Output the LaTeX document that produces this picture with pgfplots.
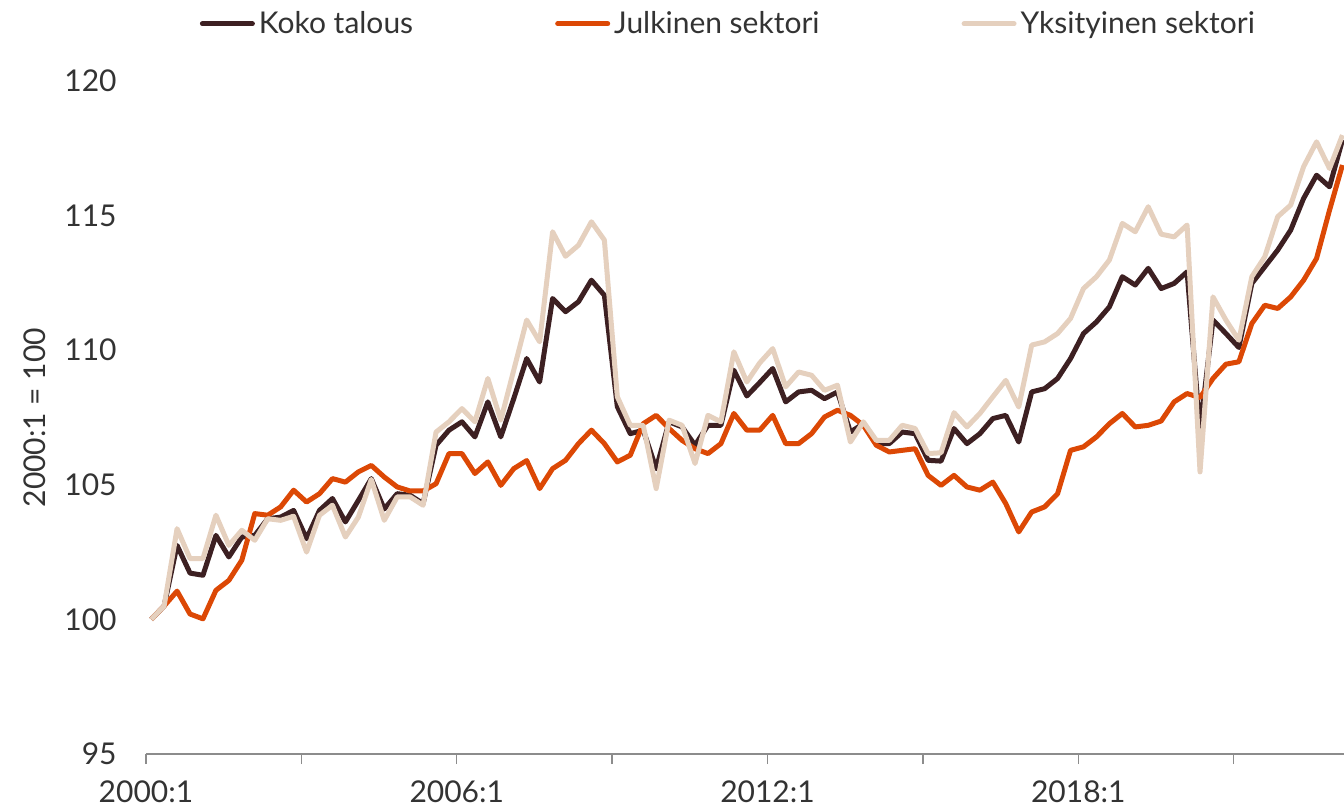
\documentclass[border=0pt]{standalone}
\usepackage{fontspec}
\setmainfont{Lato}
\usepackage{pgfplots}
\usepackage{pgfplotstable}
\pgfplotsset{compat=1.18}
\definecolor{koko}{RGB}{61,32,34}
\definecolor{julk}{RGB}{220,72,5}
\definecolor{yks}{RGB}{229,208,190}
\definecolor{txt}{RGB}{51,51,51}
\pgfplotstableread{
i k j y
0 100.00 100.00 100.00
1 100.50 100.50 100.50
2 102.75 101.05 103.37
3 101.72 100.20 102.26
4 101.64 100.02 102.26
5 103.12 101.08 103.87
6 102.32 101.45 102.75
7 103.06 102.20 103.31
8 103.12 103.93 102.94
9 103.74 103.87 103.74
10 103.80 104.18 103.68
11 104.05 104.80 103.83
12 103.00 104.36 102.50
13 104.05 104.67 103.87
14 104.49 105.23 104.24
15 103.62 105.10 103.06
16 104.42 105.48 103.80
17 105.23 105.72 105.20
18 104.10 105.29 103.68
19 104.67 104.92 104.55
20 104.61 104.77 104.55
21 104.30 104.77 104.24
22 106.47 105.04 106.96
23 107.03 106.16 107.34
24 107.34 106.16 107.83
25 106.78 105.42 107.34
26 108.08 105.85 108.95
27 106.78 104.98 107.40
28 108.20 105.60 109.26
29 109.69 105.90 111.12
30 108.82 104.86 110.31
31 111.92 105.60 114.40
32 111.43 105.91 113.49
33 111.80 106.53 113.90
34 112.60 107.03 114.77
35 112.04 106.53 114.09
36 107.90 105.85 108.27
37 106.90 106.10 107.21
38 107.03 107.27 107.21
39 105.60 107.58 104.86
40 107.34 107.09 107.40
41 107.15 106.65 107.21
42 106.47 106.34 105.79
43 107.21 106.16 107.58
44 107.21 106.53 107.34
45 109.26 107.65 109.94
46 108.30 107.03 108.82
47 108.80 107.03 109.53
48 109.32 107.58 110.06
49 108.08 106.53 108.64
50 108.45 106.53 109.19
51 108.51 106.90 109.07
52 108.20 107.52 108.51
53 108.45 107.77 108.70
54 106.96 107.58 106.59
55 107.27 107.21 107.34
56 106.53 106.47 106.65
57 106.53 106.22 106.65
58 106.96 106.28 107.21
59 106.90 106.34 107.09
60 105.91 105.35 106.16
61 105.88 104.98 106.19
62 107.09 105.35 107.68
63 106.53 104.92 107.15
64 106.90 104.80 107.65
65 107.46 105.10 108.27
66 107.58 104.30 108.88
67 106.59 103.25 107.89
68 108.45 103.99 110.19
69 108.57 104.18 110.31
70 108.95 104.67 110.62
71 109.69 106.28 111.18
72 110.62 106.41 112.29
73 111.05 106.78 112.73
74 111.61 107.27 113.35
75 112.73 107.65 114.71
76 112.42 107.15 114.40
77 113.04 107.21 115.33
78 112.29 107.37 114.31
79 112.48 108.08 114.21
80 112.91 108.39 114.65
81 107.03 108.24 105.48
82 111.12 108.95 111.98
83 110.62 109.48 111.12
84 110.10 109.57 110.37
85 112.48 110.99 112.73
86 113.10 111.67 113.47
87 113.72 111.55 114.96
88 114.46 111.98 115.39
89 115.64 112.60 116.82
90 116.50 113.41 117.74
91 116.07 115.20 116.75
92 117.81 116.88 117.99
}\datatable
\begin{document}
\begin{tikzpicture}
\path[use as bounding box] (-73pt,-28pt) rectangle (599pt,377pt);
\begin{axis}[
  at={(0pt,0pt)}, anchor=south west,
  scale only axis, width=599pt, height=336.5pt,
  xmin=-0.4, xmax=92.12, ymin=95, ymax=120,
  axis y line=none,
  axis x line*=bottom,
  x axis line style={draw=black!45, line width=1pt, -},
  xtick={-0.4,11.6,23.6,35.6,47.6,59.6,71.6,83.6},
  xticklabels={2000:1,,2006:1,,2012:1,,2018:1,},
  xtick style={draw=black!45, line width=0.7pt},
  tick align=outside, major tick length=5pt,
  xticklabel style={font=\fontsize{15}{18}\selectfont, text=txt, yshift=-5pt},
  ytick={95,100,105,110,115,120},
  yticklabels={95,100,105,110,115,120},
  ymajorgrids, grid style={draw=black!22, line width=0.8pt},
  extra description/.code={
    \foreach \v/\l in {95/95,100/100,105/105,110/110,115/115,120/120}{
      \node[anchor=east, font=\fontsize{15}{18}\selectfont, text=txt, inner sep=0pt] at ([xshift=-14.5pt]axis cs:-0.4,\v) {\l};
    }
    \node[font=\fontsize{15}{18}\selectfont, text=txt, rotate=90] at ([xshift=-55.5pt]rel axis cs:0,0.5) {2000:1 = 100};
  },
  legend style={at={(0.487,1.085)}, anchor=center, draw=none, fill=none,
    font=\fontsize{15}{18}\selectfont, text=txt,
    legend columns=3, /tikz/every even column/.append style={column sep=69pt},
    inner sep=0pt},
  legend cell align=left,
  legend image code/.code={\draw[#1, line cap=round] (0pt,0pt) -- (25pt,0pt);},
  every axis plot/.append style={line width=2.5pt, line join=round},
  clip=true,
]
\addplot[koko, mark=none] table[x=i, y=k] {\datatable};
\addlegendentry{Koko talous}
\addplot[julk, mark=none] table[x=i, y=j] {\datatable};
\addlegendentry{Julkinen sektori}
\addplot[yks, mark=none] table[x=i, y=y] {\datatable};
\addlegendentry{Yksityinen sektori}
\end{axis}
\end{tikzpicture}
\end{document}
